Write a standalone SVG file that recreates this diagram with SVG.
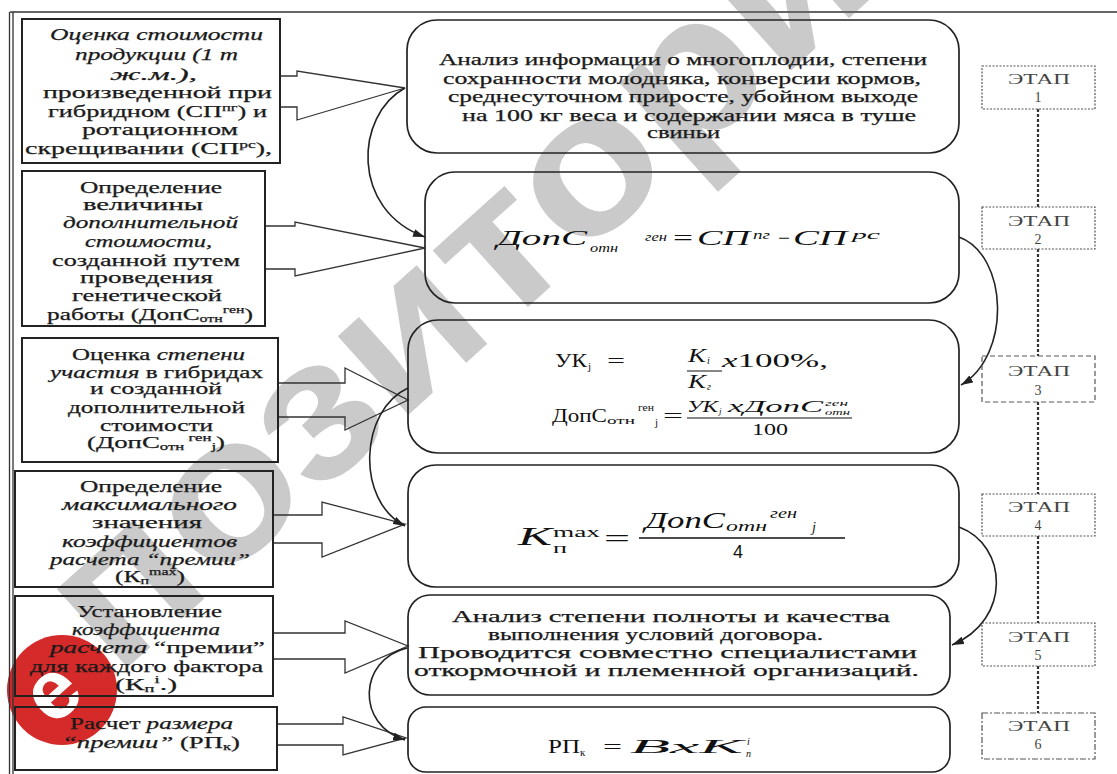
<svg xmlns="http://www.w3.org/2000/svg" width="1117" height="774" viewBox="0 0 1117 774">
<style>
.t{font-family:"Liberation Serif","Times New Roman",serif;font-size:16px;fill:#1a1a1a;stroke:#1a1a1a;stroke-width:0.25}
.i{font-style:italic}
.f{font-family:"Liberation Serif","Times New Roman",serif;fill:#111}
.box{fill:none;stroke:#222;stroke-width:2}
.rbox{fill:none;stroke:#222;stroke-width:1.7}
.arr{fill:none;stroke:#333;stroke-width:1.3;stroke-linejoin:miter}
.crv{fill:none;stroke:#222;stroke-width:1.6;marker-end:url(#ah)}
.stg{fill:none;stroke:#555;stroke-width:1.2;stroke-dasharray:2 1.5}
.st{font-family:"Liberation Serif","Times New Roman",serif;font-size:14px;fill:#444}
.vl{stroke:#333;stroke-width:2.2;stroke-dasharray:3 2}
.wm{font-family:"Liberation Sans",Arial,sans-serif;font-weight:bold;fill:#cacaca}
</style>
<defs>
<marker id="ah" viewBox="0 0 12 8" refX="12" refY="4" markerWidth="12" markerHeight="8" orient="auto" markerUnits="userSpaceOnUse">
<path d="M0,0 L12,4 L0,8 z" fill="#222"/>
</marker>
</defs>
<rect width="1117" height="774" fill="#fff"/>
<g id="watermark">
<text class="wm" font-size="200" transform="translate(116,678) rotate(-42)" textLength="1030" lengthAdjust="spacingAndGlyphs">позитори</text>
<circle cx="62" cy="690" r="55" fill="#d42a2a"/>
<text x="0" y="0" font-family="Liberation Sans,Arial,sans-serif" font-weight="bold" font-size="84" fill="#fff" text-anchor="middle" transform="translate(70,712) rotate(-42)">е</text>
</g>
<g id="frame">
<line x1="10" y1="12" x2="1117" y2="12" stroke="#666" stroke-width="2"/>
<line x1="9.5" y1="12" x2="9.5" y2="774" stroke="#333" stroke-width="1.3"/>
<line x1="13" y1="12" x2="13" y2="774" stroke="#333" stroke-width="1.3"/>
</g>
<g id="connectors">
<polyline class="arr" points="280,76 297,76 297,71 405,88 297,120 297,107 280,107"/>
<polyline class="arr" points="265,226 295,226 295,222 425,248 295,276 295,269 265,269"/>
<polyline class="arr" points="278,383 345,383 345,368 408,400 345,430 345,417 278,417"/>
<polyline class="arr" points="273,515 322,515 322,502 405,524 322,557 322,543 273,543"/>
<polyline class="arr" points="273,633 345,633 345,621 408,646 345,673 345,659 273,659"/>
<polyline class="arr" points="277,724 343,724 343,717 406,738 343,755 343,745 277,745"/>
<path class="crv" d="M405,88 C355,115 350,210 425,237"/>
<path class="crv" d="M408,388 C360,410 355,500 405,526"/>
<path class="crv" d="M407,648 C358,660 356,725 405,740"/>
<path class="crv" d="M959,237 C1008,255 1012,355 961,385"/>
<path class="crv" d="M959,527 C1008,545 1012,620 952,645"/>
<line class="vl" x1="1038" y1="109" x2="1038" y2="207"/>
<line class="vl" x1="1038" y1="249" x2="1038" y2="356"/>
<line class="vl" x1="1038" y1="402" x2="1038" y2="494"/>
<line class="vl" x1="1038" y1="536" x2="1038" y2="623"/>
<line class="vl" x1="1038" y1="666" x2="1038" y2="713"/>
</g>
<g id="left1">
<rect class="box" x="22" y="19" width="258" height="144"/>
<text class="t i" x="50" y="40" textLength="213" lengthAdjust="spacingAndGlyphs">Оценка стоимости</text>
<text class="t i" x="75" y="60" textLength="163" lengthAdjust="spacingAndGlyphs">продукции (1 т</text>
<text class="t i" x="110" y="80" textLength="87" lengthAdjust="spacingAndGlyphs">ж.м.),</text>
<text class="t" x="43" y="98" textLength="229" lengthAdjust="spacingAndGlyphs">произведенной при</text>
<text class="t" x="48" y="117" textLength="219" lengthAdjust="spacingAndGlyphs">гибридном (СП<tspan font-size="10" dy="-6">пг</tspan><tspan dy="6">) и</tspan></text>
<text class="t" x="82" y="135" textLength="156" lengthAdjust="spacingAndGlyphs">ротационном</text>
<text class="t" x="25" y="154" textLength="247" lengthAdjust="spacingAndGlyphs">скрещивании  (СП<tspan font-size="10" dy="-6">рс</tspan><tspan dy="6">),</tspan></text>
</g>
<g id="left2">
<rect class="box" x="22" y="171" width="243" height="155"/>
<text class="t" x="80" y="193" textLength="142" lengthAdjust="spacingAndGlyphs">Определение</text>
<text class="t" x="83" y="210" textLength="120" lengthAdjust="spacingAndGlyphs">величины</text>
<text class="t i" x="63" y="228" textLength="175" lengthAdjust="spacingAndGlyphs">дополнительной</text>
<text class="t i" x="85" y="247" textLength="127" lengthAdjust="spacingAndGlyphs">стоимости,</text>
<text class="t" x="52" y="266" textLength="188" lengthAdjust="spacingAndGlyphs">созданной путем</text>
<text class="t" x="80" y="283" textLength="133" lengthAdjust="spacingAndGlyphs">проведения</text>
<text class="t" x="72" y="301" textLength="150" lengthAdjust="spacingAndGlyphs">генетической</text>
<text class="t" x="47" y="320" textLength="206" lengthAdjust="spacingAndGlyphs">работы (ДопС<tspan font-size="10" dy="2">отн</tspan><tspan font-size="10" dy="-9">ген</tspan><tspan dy="7">)</tspan></text>
</g>
<g id="left3">
<rect class="box" x="22" y="338" width="256" height="124"/>
<text class="t" x="72" y="360" textLength="173" lengthAdjust="spacingAndGlyphs">Оценка <tspan class="i">степени</tspan></text>
<text class="t" x="50" y="378" textLength="213" lengthAdjust="spacingAndGlyphs"><tspan class="i">участия</tspan> в гибридах</text>
<text class="t" x="90" y="394" textLength="132" lengthAdjust="spacingAndGlyphs">и созданной</text>
<text class="t" x="68" y="413" textLength="177" lengthAdjust="spacingAndGlyphs">дополнительной</text>
<text class="t" x="100" y="431" textLength="113" lengthAdjust="spacingAndGlyphs">стоимости</text>
<text class="t" x="87" y="448" textLength="138" lengthAdjust="spacingAndGlyphs">(ДопС<tspan font-size="10" dy="2">отн</tspan><tspan font-size="10" dy="-9"> ген</tspan><tspan font-size="10" dy="9">j</tspan><tspan dy="-2">)</tspan></text>
</g>
<g id="left4">
<rect class="box" x="15" y="471" width="258" height="116"/>
<text class="t" x="80" y="492" textLength="142" lengthAdjust="spacingAndGlyphs">Определение</text>
<text class="t i" x="62" y="510" textLength="175" lengthAdjust="spacingAndGlyphs">максимального</text>
<text class="t" x="92" y="528" textLength="110" lengthAdjust="spacingAndGlyphs">значения</text>
<text class="t i" x="62" y="547" textLength="175" lengthAdjust="spacingAndGlyphs">коэффициентов</text>
<text class="t i" x="50" y="565" textLength="200" lengthAdjust="spacingAndGlyphs">расчета “премии”</text>
<text class="t" x="115" y="582" textLength="70" lengthAdjust="spacingAndGlyphs">(К<tspan font-size="10" dy="2">п</tspan><tspan font-size="10" dy="-9">max</tspan><tspan dy="7">)</tspan></text>
</g>
<g id="left5">
<rect class="box" x="15" y="596" width="258" height="100"/>
<text class="t" x="77" y="617" textLength="145" lengthAdjust="spacingAndGlyphs">Установление</text>
<text class="t i" x="72" y="635" textLength="148" lengthAdjust="spacingAndGlyphs">коэффициента</text>
<text class="t" x="50" y="653" textLength="215" lengthAdjust="spacingAndGlyphs"><tspan class="i">расчета</tspan> “премии”</text>
<text class="t" x="30" y="672" textLength="233" lengthAdjust="spacingAndGlyphs">для каждого фактора</text>
<text class="t" x="115" y="690" textLength="62" lengthAdjust="spacingAndGlyphs">(К<tspan font-size="10" dy="2">п</tspan><tspan font-size="10" dy="-9">i</tspan><tspan dy="7">.)</tspan></text>
</g>
<g id="left6">
<rect class="box" x="15" y="707" width="262" height="63"/>
<text class="t" x="70" y="729" textLength="163" lengthAdjust="spacingAndGlyphs">Расчет <tspan class="i">размера</tspan></text>
<text class="t" x="62" y="748" textLength="178" lengthAdjust="spacingAndGlyphs"><tspan class="i">“премии”</tspan> (РП<tspan font-size="10" dy="2">к</tspan><tspan dy="-2">)</tspan></text>
</g>
<g id="centerA">
<rect class="rbox" x="407" y="20" width="552" height="133" rx="30"/>
<text class="t" x="439" y="65" textLength="488" lengthAdjust="spacingAndGlyphs">Анализ информации о многоплодии, степени</text>
<text class="t" x="443" y="84" textLength="478" lengthAdjust="spacingAndGlyphs">сохранности молодняка, конверсии кормов,</text>
<text class="t" x="448" y="102" textLength="470" lengthAdjust="spacingAndGlyphs">среднесуточном приросте, убойном выходе</text>
<text class="t" x="462" y="121" textLength="454" lengthAdjust="spacingAndGlyphs">на 100 кг веса и содержании мяса в туше</text>
<text class="t" x="647" y="138" textLength="73" lengthAdjust="spacingAndGlyphs">свиньи</text>
</g>
<g id="centerB">
<rect class="rbox" x="425" y="172" width="534" height="131" rx="30"/>
<text class="f i" x="497" y="245" font-size="21" textLength="90" lengthAdjust="spacingAndGlyphs">ДопC</text>
<text class="f i" x="590" y="252" font-size="12" textLength="28" lengthAdjust="spacingAndGlyphs">отн</text>
<text class="f i" x="645" y="241" font-size="12" textLength="22" lengthAdjust="spacingAndGlyphs">ген</text>
<text class="f" x="673" y="245" font-size="21" textLength="20" lengthAdjust="spacingAndGlyphs">=</text>
<text class="f i" x="697" y="245" font-size="21" textLength="53" lengthAdjust="spacingAndGlyphs">СП</text>
<text class="f i" x="753" y="239" font-size="12" textLength="17" lengthAdjust="spacingAndGlyphs">пг</text>
<text class="f" x="778" y="245" font-size="21" textLength="12" lengthAdjust="spacingAndGlyphs">−</text>
<text class="f i" x="793" y="245" font-size="21" textLength="54" lengthAdjust="spacingAndGlyphs">СП</text>
<text class="f i" x="852" y="239" font-size="12" textLength="28" lengthAdjust="spacingAndGlyphs">рс</text>
</g>
<g id="centerC">
<rect class="rbox" x="408" y="320" width="551" height="133" rx="30"/>
<text class="f" x="555" y="367" font-size="19" textLength="32" lengthAdjust="spacingAndGlyphs">УК</text>
<text class="f" x="588" y="370" font-size="11">j</text>
<text class="f" x="607" y="367" font-size="19" textLength="18" lengthAdjust="spacingAndGlyphs">=</text>
<text class="f i" x="688" y="362" font-size="18" textLength="18" lengthAdjust="spacingAndGlyphs">K</text>
<text class="f i" x="707" y="364" font-size="10">i</text>
<line x1="687" y1="371" x2="722" y2="371" stroke="#111" stroke-width="1.2"/>
<text class="f i" x="688" y="388" font-size="18" textLength="18" lengthAdjust="spacingAndGlyphs">K</text>
<text class="f i" x="707" y="390" font-size="10">г</text>
<text class="f" x="722" y="367" font-size="18" textLength="106" lengthAdjust="spacingAndGlyphs"><tspan class="i">x</tspan>100%,</text>
<text class="f" x="552" y="422" font-size="19" textLength="55" lengthAdjust="spacingAndGlyphs">ДопС</text>
<text class="f" x="607" y="424" font-size="11" textLength="28" lengthAdjust="spacingAndGlyphs">отн</text>
<text class="f" x="638" y="411" font-size="11" textLength="16" lengthAdjust="spacingAndGlyphs">ген</text>
<text class="f" x="655" y="426" font-size="11">j</text>
<text class="f" x="663" y="422" font-size="19" textLength="20" lengthAdjust="spacingAndGlyphs">=</text>
<text class="f i" x="687" y="412" font-size="16" textLength="31" lengthAdjust="spacingAndGlyphs">УК</text>
<text class="f i" x="719" y="414" font-size="9">j</text>
<text class="f i" x="728" y="412" font-size="16" textLength="95" lengthAdjust="spacingAndGlyphs">хДопС</text>
<text class="f i" x="825" y="406" font-size="9" textLength="23" lengthAdjust="spacingAndGlyphs">ген</text>
<text class="f i" x="825" y="415" font-size="9" textLength="25" lengthAdjust="spacingAndGlyphs">отн</text>
<line x1="687" y1="418" x2="852" y2="418" stroke="#111" stroke-width="1.2"/>
<text class="f" x="752" y="435" font-size="17" textLength="36" lengthAdjust="spacingAndGlyphs">100</text>
</g>
<g id="centerD">
<rect class="rbox" x="408" y="465" width="551" height="122" rx="28"/>
<text class="f i" x="518" y="545" font-size="25" textLength="34" lengthAdjust="spacingAndGlyphs">K</text>
<text class="f" x="553" y="537" font-size="15" textLength="47" lengthAdjust="spacingAndGlyphs">max</text>
<text class="f" x="553" y="553" font-size="15" textLength="14" lengthAdjust="spacingAndGlyphs">п</text>
<text class="f" x="604" y="546" font-size="24" textLength="26" lengthAdjust="spacingAndGlyphs">=</text>
<text class="f i" x="645" y="528" font-size="23" textLength="80" lengthAdjust="spacingAndGlyphs">ДопC</text>
<text class="f i" x="726" y="531" font-size="15" textLength="41" lengthAdjust="spacingAndGlyphs">отн</text>
<text class="f i" x="770" y="518" font-size="14" textLength="27" lengthAdjust="spacingAndGlyphs">ген</text>
<text class="f i" x="812" y="532" font-size="14">j</text>
<line x1="639" y1="538" x2="845" y2="538" stroke="#111" stroke-width="1.4"/>
<text x="733" y="558" font-family="Liberation Sans,Arial,sans-serif" font-size="18" fill="#111">4</text>
</g>
<g id="centerE">
<rect class="rbox" x="408" y="595" width="542" height="100" rx="22"/>
<text class="t" x="452" y="622" textLength="438" lengthAdjust="spacingAndGlyphs">Анализ степени полноты и качества</text>
<text class="t" x="488" y="640" textLength="335" lengthAdjust="spacingAndGlyphs">выполнения условий договора.</text>
<text class="t" x="418" y="658" textLength="499" lengthAdjust="spacingAndGlyphs">Проводится совместно специалистами</text>
<text class="t" x="414" y="676" textLength="505" lengthAdjust="spacingAndGlyphs">откормочной и племенной организаций.</text>
</g>
<g id="centerF">
<rect class="rbox" x="408" y="707" width="542" height="65" rx="18"/>
<text class="f" x="548" y="753" font-size="18" textLength="32" lengthAdjust="spacingAndGlyphs">РП</text>
<text class="f" x="580" y="756" font-size="11">к</text>
<text class="f" x="603" y="753" font-size="18" textLength="19" lengthAdjust="spacingAndGlyphs">=</text>
<text class="f i" x="630" y="753" font-size="18" textLength="113" lengthAdjust="spacingAndGlyphs">BxK</text>
<text class="f i" x="747" y="745" font-size="10">i</text>
<text class="f i" x="746" y="757" font-size="10">n</text>
</g>
<g id="stage1">
<rect class="stg" x="982" y="66" width="113" height="43"/>
<text class="st" x="1008" y="84" textLength="62" lengthAdjust="spacingAndGlyphs">ЭТАП</text>
<text class="st" x="1038" y="102" text-anchor="middle">1</text>
</g>
<g id="stage2">
<rect class="stg" x="982" y="207" width="113" height="42"/>
<text class="st" x="1008" y="226" textLength="62" lengthAdjust="spacingAndGlyphs">ЭТАП</text>
<text class="st" x="1038" y="244" text-anchor="middle">2</text>
</g>
<g id="stage3">
<rect class="stg" x="982" y="356" width="113" height="46" style="stroke-dasharray:5 3"/>
<text class="st" x="1008" y="376" textLength="62" lengthAdjust="spacingAndGlyphs">ЭТАП</text>
<text class="st" x="1038" y="395" text-anchor="middle">3</text>
</g>
<g id="stage4">
<rect class="stg" x="982" y="494" width="113" height="42"/>
<text class="st" x="1008" y="512" textLength="62" lengthAdjust="spacingAndGlyphs">ЭТАП</text>
<text class="st" x="1038" y="530" text-anchor="middle">4</text>
</g>
<g id="stage5">
<rect class="stg" x="982" y="623" width="113" height="43"/>
<text class="st" x="1008" y="642" textLength="62" lengthAdjust="spacingAndGlyphs">ЭТАП</text>
<text class="st" x="1038" y="660" text-anchor="middle">5</text>
</g>
<g id="stage6">
<rect class="stg" x="982" y="713" width="113" height="46" style="stroke-dasharray:6 2 2 2"/>
<text class="st" x="1008" y="731" textLength="62" lengthAdjust="spacingAndGlyphs">ЭТАП</text>
<text class="st" x="1038" y="749" text-anchor="middle">6</text>
</g>
</svg>
